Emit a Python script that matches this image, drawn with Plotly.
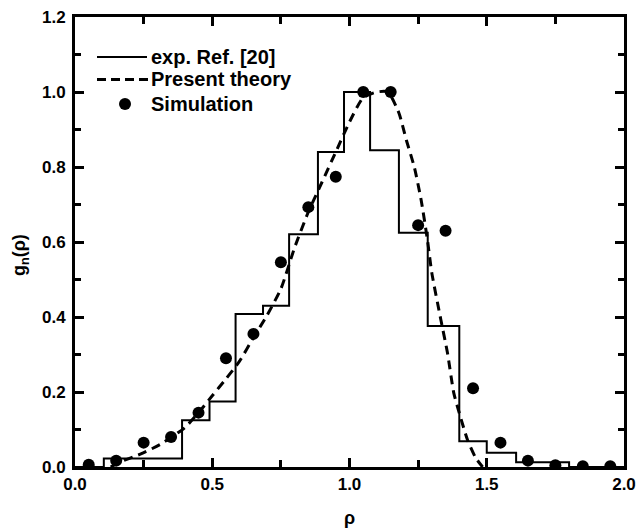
import plotly.graph_objects as go

# Experimental histogram (Ref. [20]): bin edges and heights
exp_edges = [0.0, 0.105, 0.39, 0.49, 0.585, 0.685, 0.78, 0.885, 0.98, 1.075,
             1.18, 1.285, 1.40, 1.50, 1.607, 1.80, 2.0]
exp_heights = [0.0, 0.023, 0.125, 0.175, 0.408, 0.43, 0.621, 0.84, 1.0, 0.845,
               0.625, 0.376, 0.069, 0.038, 0.013, 0.0]

# Present theory (dashed curve)
theory_rho = [0.13, 0.16, 0.24, 0.31, 0.40, 0.45, 0.50, 0.55, 0.60, 0.65,
              0.70, 0.75, 0.80, 0.85, 0.90, 0.95, 1.00, 1.05, 1.10, 1.14,
              1.18, 1.207, 1.236, 1.261, 1.284, 1.30, 1.333, 1.357, 1.38, 1.40,
              1.43, 1.46, 1.485]
theory_g = [0.0, 0.012, 0.035, 0.06, 0.105, 0.145, 0.19, 0.235, 0.283, 0.345,
            0.405, 0.475, 0.585, 0.68, 0.76, 0.84, 0.92, 0.985, 1.0, 1.0,
            0.944, 0.872, 0.8, 0.712, 0.605, 0.517, 0.392, 0.304, 0.197, 0.144,
            0.072, 0.024, 0.0]

# Simulation points
sim_rho = [0.05, 0.15, 0.25, 0.35, 0.45, 0.55, 0.65, 0.75, 0.85, 0.95,
           1.05, 1.15, 1.25, 1.35, 1.45, 1.55, 1.65, 1.75, 1.85, 1.95]
sim_g = [0.006, 0.017, 0.065, 0.08, 0.145, 0.29, 0.355, 0.546, 0.693, 0.774,
         1.0, 1.0, 0.645, 0.63, 0.21, 0.065, 0.017, 0.005, 0.002, 0.002]

series_names = ["exp. Ref. [20]", "Present theory", "Simulation"]
x_ticks = [0.0, 0.5, 1.0, 1.5, 2.0]
y_ticks = [0.0, 0.2, 0.4, 0.6, 0.8, 1.0, 1.2]

FONT = "Liberation Sans"
W, H = 637, 529
ML, MR, MT, MB = 75, 13, 17, 62
PW, PH = W - ML - MR, H - MT - MB


def px(xp):
    return (xp - ML) / PW


def py(yp):
    return (H - MB - yp) / PH


fig = go.Figure()
fig.add_trace(go.Scatter(
    x=exp_edges, y=exp_heights + [exp_heights[-1]], mode="lines",
    line=dict(shape="hv", color="black", width=2),
    name=series_names[0], showlegend=False))
fig.add_trace(go.Scatter(
    x=theory_rho, y=theory_g, mode="lines",
    line=dict(shape="spline", smoothing=0.6, color="black", width=3, dash="9px,6px"),
    name=series_names[1], showlegend=False))
fig.add_trace(go.Scatter(
    x=sim_rho, y=sim_g, mode="markers",
    marker=dict(color="black", size=12, symbol="circle"),
    name=series_names[2], showlegend=False))

axis_common = dict(
    showline=True, linecolor="black", linewidth=3, mirror="ticks",
    ticks="inside", tickcolor="black", tickwidth=2.5, ticklen=9,
    showgrid=False, zeroline=False, automargin=False,
    tickfont=dict(family=FONT, size=17, color="black", weight="bold"),
)

fig.update_xaxes(
    range=[0, 2.0], tickvals=x_ticks, ticktext=[f"{v:.1f}" for v in x_ticks],
    minor=dict(ticks="inside", dtick=0.25, tick0=0, ticklen=7, tickwidth=2.5,
               tickcolor="black"),
    title=dict(text="ρ", font=dict(family=FONT, size=18, color="black", weight="bold"),
               standoff=18),
    **axis_common)
fig.update_yaxes(
    range=[0, 1.2], tickvals=y_ticks, ticktext=[f"{v:.1f}" for v in y_ticks],
    minor=dict(ticks="inside", dtick=0.1, tick0=0, ticklen=6, tickwidth=2.5,
               tickcolor="black"),
    ticklabelstandoff=3,
    **axis_common)

# y-axis title as an annotation for exact placement
annotations = [dict(
    text="g<sub>n</sub>(ρ)", xref="paper", yref="paper", x=px(20), y=py(255),
    xanchor="center", yanchor="middle", textangle=-90, showarrow=False,
    font=dict(family=FONT, size=18, color="black", weight="bold"))]

# Legend drawn by hand (tight row spacing as in the reference)
leg_rows = [57, 79.5, 104]
shapes = [
    dict(type="line", xref="paper", yref="paper", x0=px(97), x1=px(147),
         y0=py(leg_rows[0]), y1=py(leg_rows[0]), line=dict(color="black", width=2)),
    dict(type="line", xref="paper", yref="paper", x0=px(97), x1=px(148),
         y0=py(leg_rows[1]), y1=py(leg_rows[1]),
         line=dict(color="black", width=3, dash="9px,5px")),
    dict(type="circle", xref="paper", yref="paper", x0=px(119), x1=px(131),
         y0=py(leg_rows[2] - 6), y1=py(leg_rows[2] + 6),
         fillcolor="black", line=dict(color="black", width=0)),
]
for name, row in zip(series_names, leg_rows):
    annotations.append(dict(
        text=name, xref="paper", yref="paper", x=px(149), y=py(row),
        xanchor="left", yanchor="middle", showarrow=False,
        font=dict(family=FONT, size=20, color="black", weight="bold")))

fig.update_layout(
    width=W, height=H,
    margin=dict(l=ML, r=MR, t=MT, b=MB),
    paper_bgcolor="white", plot_bgcolor="white",
    showlegend=False,
    annotations=annotations, shapes=shapes,
)

fig.write_html("out.html",
               config={"displayModeBar": False},
               post_script="document.body.style.margin='0';document.body.style.overflow='hidden';")
